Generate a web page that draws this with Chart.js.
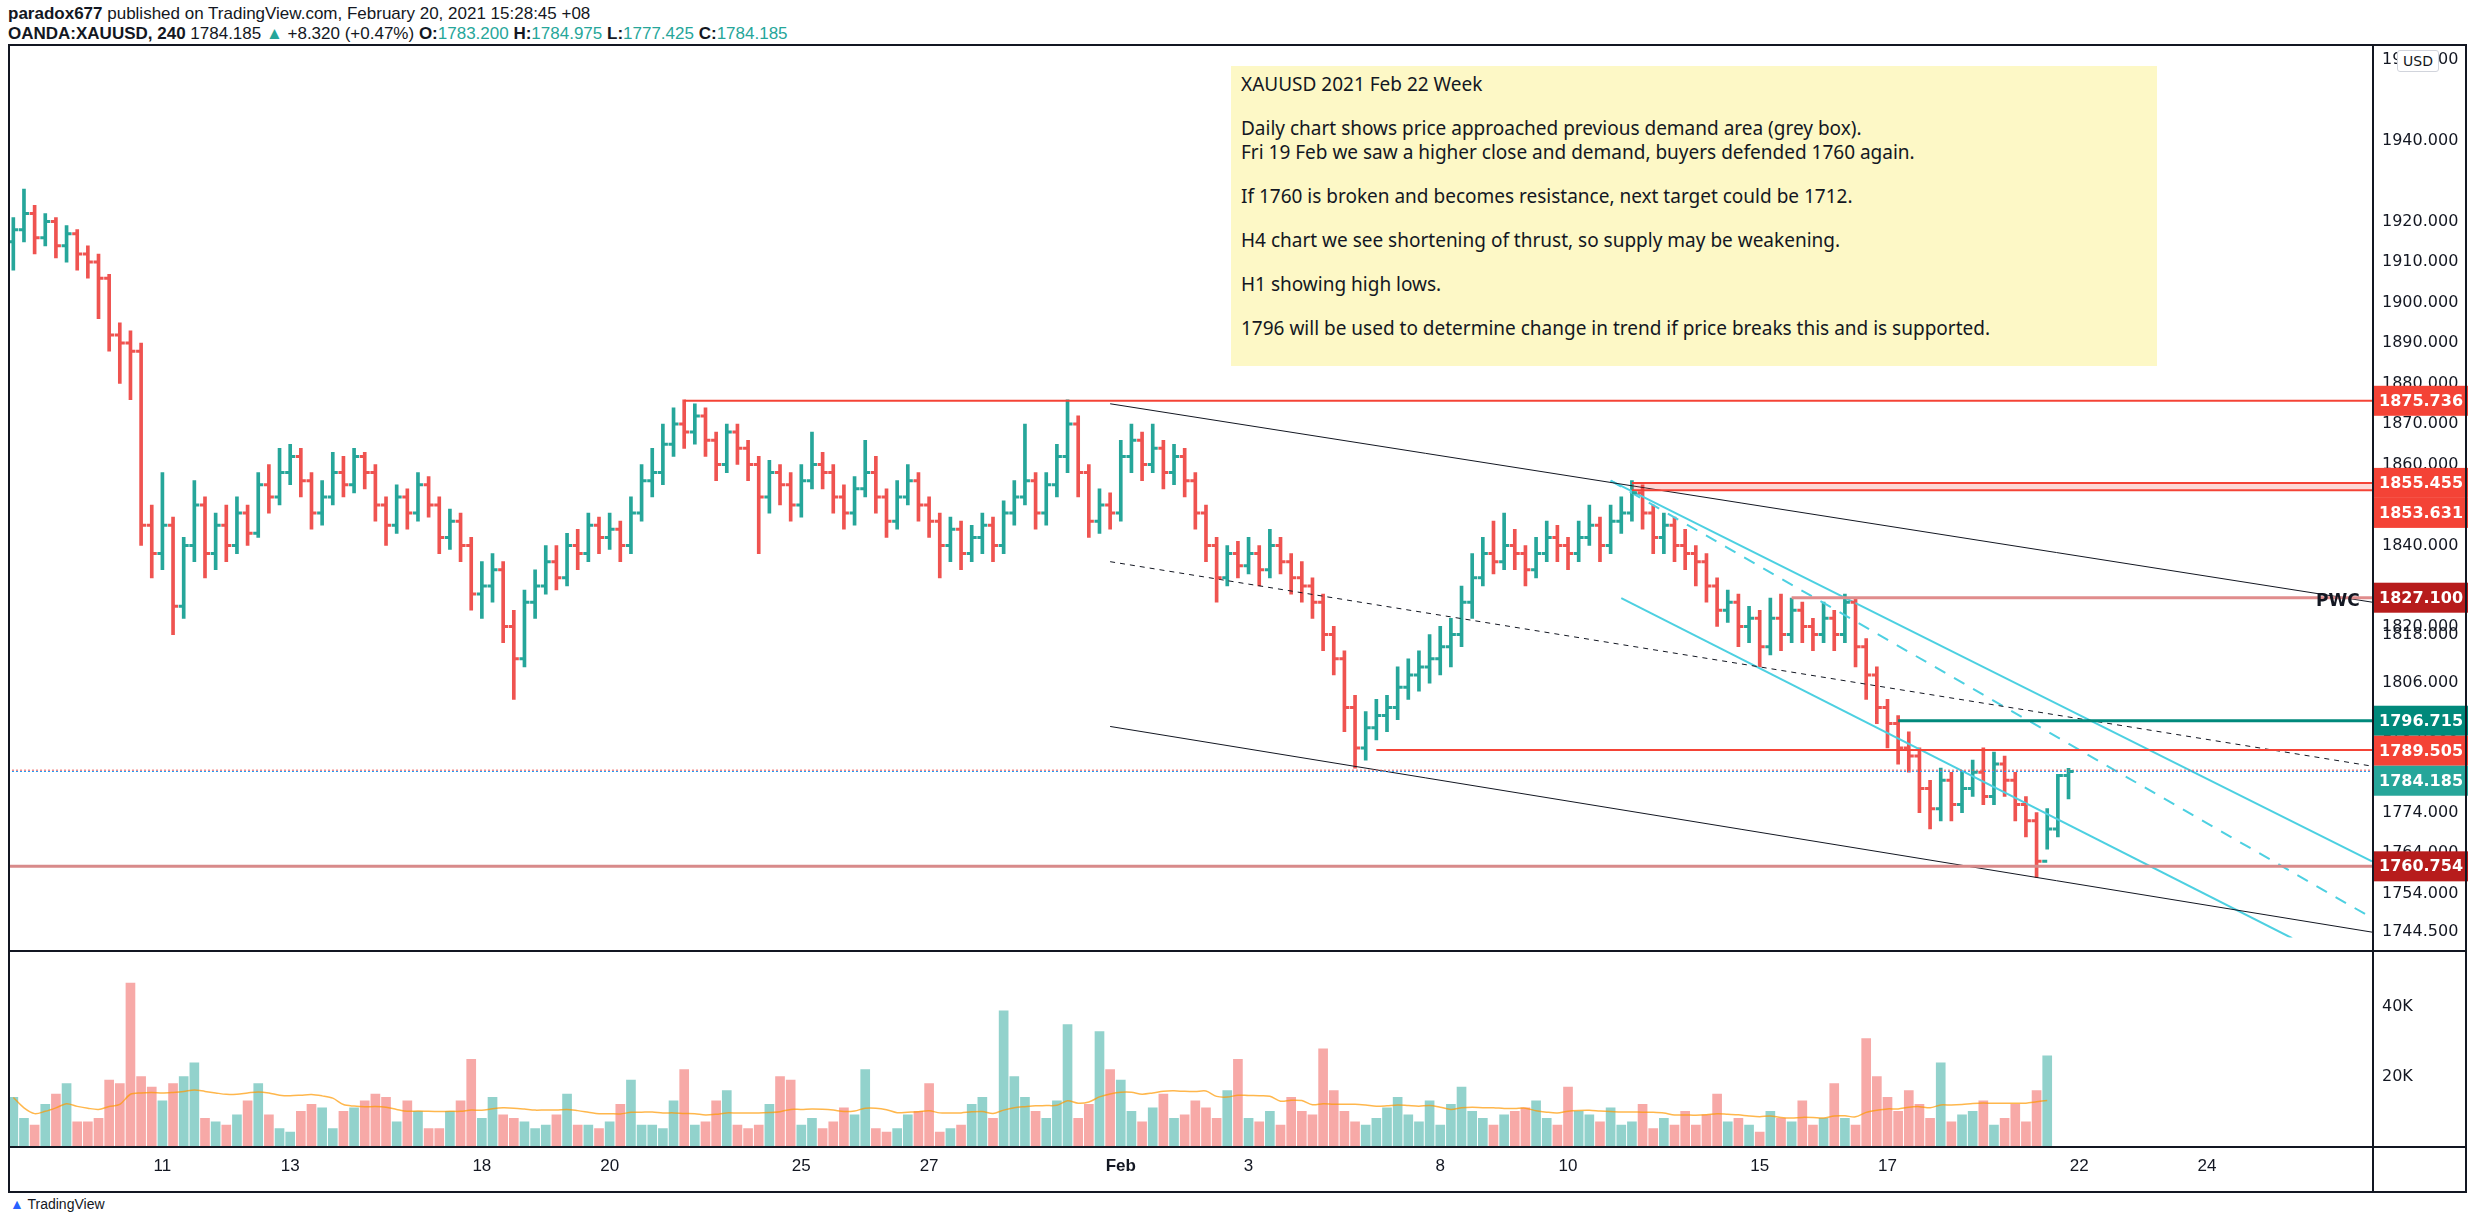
<!DOCTYPE html>
<html lang="en">
<head>
<meta charset="UTF-8">
<title>XAUUSD 240</title>
<script src="https://cdn.jsdelivr.net/npm/chart.js"></script>
<style>
    body { margin: 0; width: 2468px; height: 1215px; background: #fff; position: relative; overflow: hidden; font-family: "Liberation Sans", "Noto Sans", sans-serif; color: #131722; }
    .hdr { position: absolute; left: 8px; font-size: 17px; white-space: nowrap; }
    .hdr b { font-weight: bold; }
    .g { color: #26a69a; }
    .box { position: absolute; }
    .ln { position: absolute; background: #131722; }
    #note { position: absolute; left: 1231px; top: 66px; width: 926px; height: 300px; background: #fdf8c6; font-family: "Noto Sans", sans-serif; font-size: 19px; line-height: 24px; padding: 6px 10px; box-sizing: border-box; }
    #note p { margin: 0 0 20px 0; }
    #pwc { position: absolute; left: 2316px; top: 590px; font: bold 17px "DejaVu Sans", sans-serif; }
    #usd { position: absolute; left: 2397px; top: 50px; border: 1px solid #d1d4dc; border-radius: 3px; font: 14px "DejaVu Sans", sans-serif; padding: 2px 5px; background: #fff; z-index: 3; }
    #logo { position: absolute; left: 10px; top: 1196px; font-size: 14px; color: #131722; }
    #logo span { color: #2962ff; font-weight: bold; }
</style>
</head>
<body>
<div class="hdr" style="top:4px"><b>paradox677</b> published on TradingView.com, February 20, 2021 15:28:45 +08</div>
<div class="hdr" style="top:24px"><b>OANDA:XAUUSD, 240</b> 1784.185 <span class="g">&#9650;</span> +8.320 (+0.47%) <b>O:</b><span class="g">1783.200</span> <b>H:</b><span class="g">1784.975</span> <b>L:</b><span class="g">1777.425</span> <b>C:</b><span class="g">1784.185</span></div>

<div class="box" style="left:0;top:44px;width:2468px;height:907px"><canvas id="price"></canvas></div>
<div class="box" style="left:0;top:951px;width:2468px;height:241px"><canvas id="vol"></canvas></div>

<div class="ln" style="left:8px;top:44px;width:2458px;height:2px"></div>
<div class="ln" style="left:8px;top:1191px;width:2458px;height:2px"></div>
<div class="ln" style="left:8px;top:44px;width:2px;height:1149px"></div>
<div class="ln" style="left:2465px;top:44px;width:2px;height:1149px"></div>
<div class="ln" style="left:2372px;top:44px;width:2px;height:1149px"></div>
<div class="ln" style="left:8px;top:950px;width:2458px;height:2px"></div>
<div class="ln" style="left:8px;top:1146px;width:2458px;height:2px"></div>

<div id="note">
<p>XAUUSD 2021 Feb 22 Week</p>
<p>Daily chart shows price approached previous demand area (grey box).<br>Fri 19 Feb we saw a higher close and demand, buyers defended 1760 again.</p>
<p>If 1760 is broken and becomes resistance, next target could be 1712.</p>
<p>H4 chart we see shortening of thrust, so supply may be weakening.</p>
<p>H1 showing high lows.</p>
<p>1796 will be used to determine change in trend if price breaks this and is supported.</p>
</div>
<div id="pwc">PWC</div>
<div id="usd">USD</div>
<div id="logo"><span>&#9650;</span> TradingView</div>

<script>
const firstOpen = 1915;
const closes = [
    1918,1922,1916,1920,1914,1917,1912,1910,1906,1892,1890,1888,1845,1838,
    1845,1825,1840,1850,1838,1845, 1840,1848,1843,1855,1852,1858,
    1862,1856,1848,1852,1858,1855, 1862,1858,1850,1845,1852,1848,
    1855,1850,1842,1846,1840,1828, 1830,1834,1820,1812,1826,1830,
    1836,1832,1840,1838,1845,1842, 1844,1840,1848,1856,1858,1865,
    1870,1868,1872,1866,1860,1868, 1864,1860,1852,1858,1855,1850,
    1856,1860,1858,1852,1848,1854, 1858,1852,1846,1852,1856,1850,
    1846,1840,1844,1838,1842,1845, 1840,1848,1852,1856,1848,1855,
    1862,1870,1858,1846,1850,1848, 1862,1866,1860,1864,1858,1862,
    1856,1848,1840,1832,1838,1835, 1838,1834,1840,1836,1832,1830,
    1826,1818,1812,1800,1790,1795, 1798,1800,1805,1808,1810,1812,
    1815,1818,1826,1832,1838,1836, 1840,1838,1834,1838,1842,1840,
    1838,1842,1845,1840,1846,1848, 1853,1848,1842,1845,1840,1838,
    1836,1830,1824,1826,1820,1822, 1815,1822,1818,1824,1820,1818,
    1822,1818,1826,1815,1808,1800, 1796,1790,1788,1780,1775,1782,
    1776,1780,1784,1778,1786,1782, 1776,1772,1762,1770,1783.2,1784.185
];
const highs = [
    1921,1928,1924,1922,1921,1919,1918,1914,1912,1907,1895,1893,1890,1850,
    1858,1847,1842,1856,1852,1848, 1850,1852,1850,1858,1860,1864,
    1865,1864,1858,1856,1863,1862, 1864,1863,1860,1852,1855,1854,
    1858,1857,1852,1849,1848,1842, 1836,1838,1836,1824,1829,1834,
    1840,1840,1843,1844,1848,1847, 1848,1846,1852,1860,1864,1870,
    1874,1876,1875,1874,1868,1870, 1870,1866,1862,1861,1860,1858,
    1860,1868,1863,1860,1855,1857, 1866,1862,1854,1856,1860,1858,
    1852,1848,1847,1846,1845,1848, 1847,1851,1856,1870,1858,1858,
    1865,1876,1872,1860,1854,1853, 1866,1870,1868,1870,1866,1865,
    1864,1858,1850,1842,1840,1841, 1842,1840,1844,1842,1838,1836,
    1832,1828,1820,1814,1803,1799, 1802,1803,1810,1812,1814,1818,
    1820,1822,1830,1838,1842,1846, 1848,1844,1840,1842,1846,1845,
    1842,1846,1850,1847,1850,1852, 1856,1855,1850,1848,1847,1844,
    1840,1838,1832,1829,1828,1825, 1824,1827,1828,1827,1826,1822,
    1826,1824,1828,1827,1817,1810, 1802,1798,1794,1790,1782,1785,
    1784,1784,1787,1790,1789,1788, 1784,1778,1774,1775,1783.5,1784.975
];
const lows = [
    1908,1915,1912,1914,1911,1910,1908,1906,1896,1888,1880,1876,1840,1832,
    1834,1818,1822,1836,1832,1834, 1836,1838,1840,1842,1848,1850,
    1855,1852,1844,1845,1850,1852, 1853,1854,1846,1840,1843,1844,
    1846,1847,1838,1839,1836,1824, 1822,1826,1816,1802,1810,1822,
    1828,1829,1830,1834,1836,1838, 1839,1836,1838,1846,1852,1855,
    1862,1864,1865,1862,1856,1858, 1860,1856,1838,1848,1850,1846,
    1847,1854,1854,1848,1844,1845, 1852,1848,1842,1844,1850,1846,
    1842,1832,1836,1834,1836,1838, 1836,1838,1845,1850,1844,1845,
    1852,1858,1852,1842,1843,1844, 1846,1858,1856,1858,1854,1855,
    1852,1844,1836,1826,1830,1832, 1833,1830,1832,1833,1828,1826,
    1822,1814,1808,1794,1785,1787, 1792,1794,1797,1802,1804,1806,
    1808,1810,1815,1822,1830,1833, 1834,1834,1830,1832,1836,1836,
    1834,1836,1840,1836,1838,1843, 1846,1844,1838,1838,1836,1834,
    1830,1826,1820,1821,1815,1816, 1810,1813,1814,1816,1816,1814,
    1816,1814,1816,1810,1802,1796, 1790,1786,1784,1774,1770,1772,
    1772,1774,1778,1776,1776,1778, 1772,1768,1758,1765,1768,1777.425
];
const volumes = [
    14,8,6,12,15,18,7,7,8,19,18,47,20,17,
    13,18,20,24,8,7,6,9,13,18,9,5,4,10,
    12,11,5,10,11,13,15,14,7,13,10,5,5,10,
    13,25,8,14,9,8,7,5,6,9,15,6,6,5,
    7,12,19,6,6,5,13,22,6,7,13,16,6,5,
    6,12,20,19,6,8,5,7,11,9,22,5,4,5,
    9,10,18,4,5,6,12,14,8,39,20,14,10,8,
    13,35,8,12,33,22,19,10,7,11,15,8,9,13,
    11,8,16,25,8,7,10,6,14,10,9,28,16,10,
    7,6,8,11,14,9,7,13,6,12,17,10,8,6,
    9,10,11,13,8,6,17,10,9,7,11,6,7,12,
    5,8,6,10,6,9,15,7,8,6,4,10,8,7,
    13,6,8,18,8,6,31,20,14,10,16,12,8,24,
    7,9,10,13,6,8,12,7,16,26
];
const dayTicks = [14,26,44,56,74,86,104,116,134,146,164,176,194,206];
const dayLabels = ['11','13','18','20','25','27','Feb','3','8','10','15','17','22','24'];
const priceTicks = [1960,1940,1920,1910,1900,1890,1880,1870,1860,1840,1820,1818,1806,1794,1774,1764,1754,1744.5];
const XMIN = -0.5, XMAX = 221.5;
const levels = [
    {v: 1875.736, from: 63, color: '#f44336', box: '#f44336', w: 2},
    {v: 1855.455, from: 152, color: '#f44336', box: '#f44336', w: 2},
    {v: 1853.631, from: 152, color: '#f44336', box: '#f44336', w: 2},
    {v: 1827.100, from: 167, color: '#e08c8c', box: '#b71c1c', w: 3},
    {v: 1796.715, from: 177, color: '#00897b', box: '#00897b', w: 3},
    {v: 1789.505, from: 128, color: '#f44336', box: '#f44336', w: 2},
    {v: 1784.185, from: -1, color: '#2196f3', box: '#26a69a', w: 1, dash: [2, 2]},
    {v: 1760.754, from: -1, color: '#d88a8a', box: '#b71c1c', w: 3}
];
const trendLines = [
    {a: [103, 1875], b: [XMAX, 1826], color: '#131722', w: 1},
    {a: [103, 1795.3], b: [XMAX, 1744.5], color: '#131722', w: 1},
    {a: [103, 1836], b: [XMAX, 1785.5], color: '#131722', w: 1, dash: [5, 5]},
    {a: [150, 1856], b: [XMAX, 1762], color: '#4dd0e1', w: 2},
    {a: [150, 1856], b: [XMAX, 1748], color: '#4dd0e1', w: 2, dash: [12, 10]},
    {a: [151, 1827], b: [214, 1743], color: '#4dd0e1', w: 2}
];

const UP = '#26a69a', DOWN = '#ef5350';
const opens = closes.map((c, i) => i === 0 ? firstOpen : closes[i - 1]);
const colors = closes.map((c, i) => c >= opens[i] ? UP : DOWN);

const datasets = [];
levels.forEach(l => {
    datasets.push({type: 'line', data: [{x: l.from < 0 ? XMIN : l.from, y: l.v}, {x: XMAX, y: l.v}],
        borderColor: l.color, borderWidth: l.w, borderDash: l.dash || [], pointRadius: 0});
});
// pink band between the two 185x levels
datasets.push({type: 'line', data: [{x: 152, y: 1855.455}, {x: XMAX, y: 1855.455}], borderWidth: 0, pointRadius: 0,
    fill: {target: 2}, backgroundColor: 'rgba(244,67,54,0.2)'});
datasets.push({type: 'line', data: [{x: XMIN, y: 1784.5}, {x: XMAX, y: 1784.5}], borderColor: '#ef5350', borderWidth: 1, borderDash: [2, 2], pointRadius: 0});
trendLines.forEach(t => {
    datasets.push({type: 'line', data: [{x: t.a[0], y: t.a[1]}, {x: t.b[0], y: t.b[1]}],
        borderColor: t.color, borderWidth: t.w, borderDash: t.dash || [], pointRadius: 0});
});
datasets.push({type: 'bar', data: closes.map((c, i) => ({x: i, y: [lows[i], highs[i]]})),
    backgroundColor: colors, barThickness: 3, grouped: false});

// open/close ticks of the OHLC bars
const ohlcTicks = {
    id: 'ohlcTicks',
    afterDatasetsDraw(chart) {
        const {ctx, scales: {x, y}} = chart;
        ctx.save();
        ctx.lineWidth = 3;
        closes.forEach((c, i) => {
            const px = x.getPixelForValue(i);
            ctx.strokeStyle = colors[i];
            ctx.beginPath();
            ctx.moveTo(px - 5, y.getPixelForValue(opens[i]));
            ctx.lineTo(px, y.getPixelForValue(opens[i]));
            ctx.moveTo(px, y.getPixelForValue(c));
            ctx.lineTo(px + 5, y.getPixelForValue(c));
            ctx.stroke();
        });
        ctx.restore();
    }
};

// price boxes on the right axis
const axisBoxes = {
    id: 'axisBoxes',
    afterDraw(chart) {
        const {ctx, chartArea, scales: {y}} = chart;
        const h = 30;
        let lastBottom = -1e9;
        ctx.save();
        ctx.font = 'bold 16px "DejaVu Sans", sans-serif';
        ctx.textBaseline = 'middle';
        levels.slice().sort((a, b) => b.v - a.v).forEach(l => {
            let top = y.getPixelForValue(l.v) - h / 2;
            if (top < lastBottom) top = lastBottom;
            lastBottom = top + h;
            ctx.fillStyle = l.box;
            ctx.fillRect(chartArea.right + 1, top, 96, h);
            ctx.fillStyle = '#fff';
            ctx.fillText(l.v.toFixed(3), chartArea.right + 7, top + h / 2 + 1);
        });
        ctx.restore();
    }
};

new Chart(document.getElementById('price'), {
    type: 'bar',
    data: {datasets: datasets},
    plugins: [ohlcTicks, axisBoxes],
    options: {
        responsive: true, maintainAspectRatio: false, animation: false,
        layout: {padding: {left: 8, top: 0, bottom: 0, right: 0}},
        plugins: {legend: {display: false}, tooltip: {enabled: false}},
        scales: {
            x: {type: 'linear', min: XMIN, max: XMAX, offset: false, display: false},
            y: {
                position: 'right', min: 1743.2, max: 1960.5,
                grid: {display: false, drawTicks: true, tickLength: 6, tickColor: '#131722'},
                border: {display: false},
                afterFit(s) { s.width = 96; },
                afterBuildTicks(s) { s.ticks = priceTicks.map(v => ({value: v})); },
                ticks: {color: '#131722', font: {size: 16, family: 'DejaVu Sans'}, padding: 4,
                    callback: v => Number(v).toFixed(3)}
            }
        }
    }
});

const volColors = closes.map((c, i) => c >= opens[i] ? 'rgba(38,166,154,0.5)' : 'rgba(239,83,80,0.5)');
const volMA = volumes.map((v, i) => {
    const s = volumes.slice(Math.max(0, i - 19), i + 1);
    return {x: i, y: s.reduce((a, b) => a + b, 0) / s.length * 1000};
});

new Chart(document.getElementById('vol'), {
    type: 'bar',
    data: {
        datasets: [
            {type: 'line', data: volMA, borderColor: 'rgba(255,152,0,0.7)', borderWidth: 1.5, pointRadius: 0, tension: 0.3},
            {type: 'bar', data: volumes.map((v, i) => ({x: i, y: v * 1000})), backgroundColor: volColors, barThickness: 9}
        ]
    },
    options: {
        responsive: true, maintainAspectRatio: false, animation: false,
        layout: {padding: {left: 8, top: 0, bottom: 0, right: 0}},
        plugins: {legend: {display: false}, tooltip: {enabled: false}},
        scales: {
            x: {
                type: 'linear', min: XMIN, max: XMAX, offset: false,
                grid: {display: false, drawTicks: true, tickLength: 6, tickColor: '#131722'},
                border: {display: false},
                afterFit(s) { s.height = 46; },
                afterBuildTicks(s) { s.ticks = dayTicks.map(v => ({value: v})); },
                ticks: {color: '#131722', autoSkip: false, maxRotation: 0, padding: 4,
                    font: ctx => ({size: 17, family: 'Liberation Sans', weight: ctx.tick && ctx.tick.value === 104 ? 'bold' : 'normal'}),
                    callback: v => dayLabels[dayTicks.indexOf(v)]}
            },
            y: {
                position: 'right', min: 0, max: 52300,
                grid: {display: false, drawTicks: true, tickLength: 6, tickColor: '#131722'},
                border: {display: false},
                afterFit(s) { s.width = 96; },
                afterBuildTicks(s) { s.ticks = [{value: 20000}, {value: 40000}]; },
                ticks: {color: '#131722', font: {size: 16, family: 'DejaVu Sans'}, padding: 4,
                    callback: v => (v / 1000) + 'K'}
            }
        }
    }
});
</script>
</body>
</html>
